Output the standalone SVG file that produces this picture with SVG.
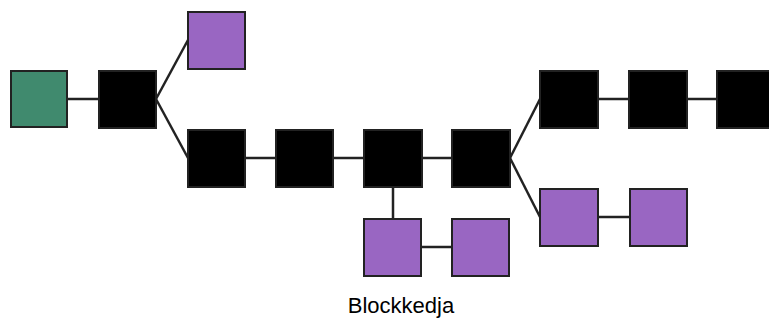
<svg xmlns="http://www.w3.org/2000/svg" width="769" height="320" viewBox="0 0 769 320">
<style>
.b{fill:#000;stroke:#222;stroke-width:2}
.p{fill:#9966c2;stroke:#222;stroke-width:2}
.g{fill:#408a6e;stroke:#222;stroke-width:2}
.c line{stroke:#222;stroke-width:2.5}
text{font-family:"Liberation Sans",Arial,sans-serif;font-size:22px;fill:#000}
</style>
<rect width="769" height="320" fill="#fff"/>
<g class="c" id="connectors">
<line x1="67" y1="99" x2="99" y2="99"/>
<line x1="156" y1="99" x2="188" y2="40"/>
<line x1="156" y1="99" x2="188" y2="158"/>
<line x1="245" y1="158" x2="276" y2="158"/>
<line x1="333" y1="158" x2="364" y2="158"/>
<line x1="422" y1="158" x2="452" y2="158"/>
<line x1="393" y1="187" x2="393" y2="219"/>
<line x1="421" y1="247" x2="452" y2="247"/>
<line x1="510" y1="158" x2="540" y2="99"/>
<line x1="510" y1="158" x2="540" y2="217"/>
<line x1="598" y1="99" x2="629" y2="99"/>
<line x1="687" y1="99" x2="717" y2="99"/>
<line x1="598" y1="217" x2="630" y2="217"/>
</g>
<g id="n0"><rect class="g" x="11" y="71" width="56" height="56"/></g>
<g id="n1"><rect class="b" x="99" y="71" width="57" height="57"/></g>
<g id="n2"><rect class="p" x="188" y="12" width="57" height="57"/></g>
<g id="n3"><rect class="b" x="188" y="130" width="57" height="57"/></g>
<g id="n4"><rect class="b" x="276" y="130" width="57" height="57"/></g>
<g id="n5"><rect class="b" x="364" y="130" width="58" height="57"/></g>
<g id="n6"><rect class="b" x="452" y="130" width="58" height="57"/></g>
<g id="n7"><rect class="p" x="364" y="219" width="57" height="57"/></g>
<g id="n8"><rect class="p" x="452" y="219" width="57" height="57"/></g>
<g id="n9"><rect class="b" x="540" y="71" width="58" height="57"/></g>
<g id="n10"><rect class="b" x="629" y="71" width="58" height="57"/></g>
<g id="n11"><rect class="b" x="717" y="71" width="58" height="57"/></g>
<g id="n12"><rect class="p" x="540" y="189" width="58" height="57"/></g>
<g id="n13"><rect class="p" x="630" y="189" width="57" height="57"/></g>
<text x="401" y="313" text-anchor="middle">Blockkedja</text>
</svg>
